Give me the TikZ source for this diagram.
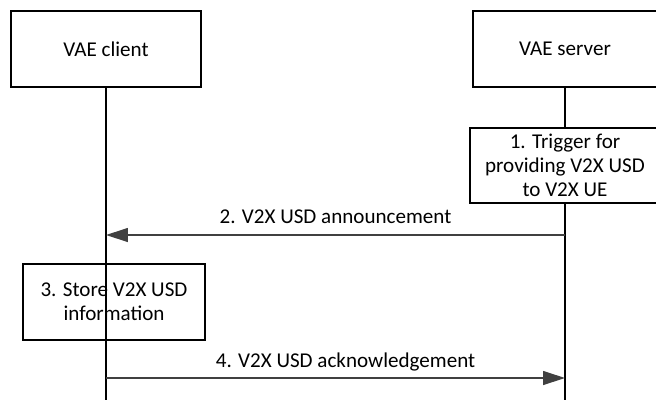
\documentclass[tikz,border=0pt]{standalone}
\usepackage{fontspec}
\setmainfont{Carlito}
\usepackage{tikz}
\usetikzlibrary{arrows.meta}

\begin{document}
\begin{tikzpicture}[x=0.02cm, y=-0.02cm, font=\fontsize{12}{13.6}\selectfont]
		\tikzstyle{entity} = [rectangle, draw=black, line width=0.7pt, inner sep=0pt, align=center]
		
		\tikzstyle{action} = [rectangle, draw=black, line width=0.7pt, inner sep=0pt, align=center]
		
		\tikzstyle{lifeline} = [draw=black, line width=0.7pt]
		
		\tikzstyle{arrow} = [draw=black!75, line width=0.7pt, -{Triangle[length=0.44cm, width=0.28cm, fill=black!75]}]
		
		\useasboundingbox (0,0) rectangle (656,400);
		
		% Entities
		\node (client) [entity, minimum width=3.8cm, minimum height=1.52cm] at (106,49) {VAE client};
		\node (server) [entity, minimum width=3.68cm, minimum height=1.52cm] at (565,49) {VAE server};
		
		% Actions
		\node (trigger) [action, minimum width=3.8cm, minimum height=1.5cm] at (565,165.5) {1. Trigger for\\ providing V2X USD\\ to V2X UE};
		\node (store) [action, minimum width=3.64cm, minimum height=1.52cm] at (114,302) {3. Store V2X USD\\ information};
		
		% Lifelines
		\coordinate (clientend) at (106,400);
		\coordinate (serverend) at (565,400);
		\draw [lifeline] (client.south) -- (clientend);
		\draw [lifeline] (server.south) -- (trigger.north);
		\draw [lifeline] (trigger.south) -- (serverend);
		
		% Messages
		\coordinate (m2s) at (565,235);
		\coordinate (m2e) at (106,235);
		\coordinate (m4s) at (106,378);
		\coordinate (m4e) at (565,378);
		\draw [arrow] (m2s) -- node[above=3pt] {2. V2X USD announcement} (m2e);
		\draw [arrow] (m4s) -- node[above=0.5pt, xshift=0.2cm] {4. V2X USD acknowledgement} (m4e);
		\end{tikzpicture}
\end{document}
